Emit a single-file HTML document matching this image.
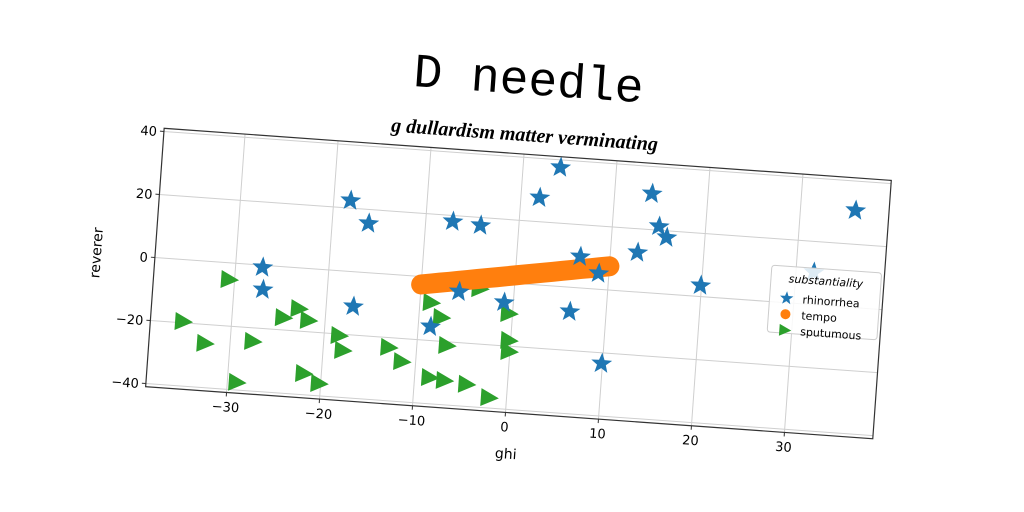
<!DOCTYPE html>
<html><head><meta charset="utf-8"><style>
html,body{margin:0;padding:0;background:#fff;width:1024px;height:512px;overflow:hidden}
svg{display:block}
text{font-family:"DejaVu Sans","Liberation Sans",sans-serif}
</style></head><body>
<svg id="chart" width="1024" height="512" viewBox="0 0 1024 512" xmlns="http://www.w3.org/2000/svg">
<g id="rot" transform="rotate(4.1 518 283)">
<text x="514" y="94" text-anchor="middle" font-size="48" style="font-family:'Liberation Mono','DejaVu Sans Mono',monospace">D needle</text>
<text x="514" y="141" text-anchor="middle" font-size="20" font-style="italic" font-weight="bold" style="font-family:'Liberation Serif',serif">g dullardism matter verminating</text>
<g id="grid"></g>
<g id="marks"></g>
<rect x="154" y="154" width="729" height="259" fill="none" stroke="#333" stroke-width="1.2"/>
<g id="ticks"></g>
<text x="518" y="459" text-anchor="middle" font-size="14">ghi</text>
<text transform="translate(100 283) rotate(-90)" text-anchor="middle" font-size="14">reverer</text>
<g id="legend">
<rect x="770" y="247" width="110" height="67" rx="3" fill="#fff" fill-opacity="0.85" stroke="#ccc"/>
<text x="825" y="263" text-anchor="middle" font-size="11" font-style="italic">substantiality</text>
<g><path id="lgstar" d="" fill="#1f77b4"/><text x="803" y="283" font-size="11">rhinorrhea</text></g>
<g><circle cx="787" cy="295" r="5" fill="#ff7f0e"/><text x="803" y="299" font-size="11">tempo</text></g>
<g><path d="M782,305 L794,311 L782,317 Z" fill="#2ca02c"/><text x="803" y="315" font-size="11">sputumous</text></g>
</g>
</g>
</svg>
<script>
const xTicks=[-30,-20,-10,0,10,20,30];
const yTicks=[-40,-20,0,20,40];
const starX=[-18.2,-16.1,-7.1,-4.1,4.0,2.0,14.0,15.0,15.9,6.8,12.9,8.9,-27.1,-26.9,-17.1,-5.9,-8.7,-1.0,6.1,9.9,19.9,31.9,35.9];
const starY=[22.4,15.6,18.1,17.5,37.6,27.6,31.4,21.2,17.9,9.9,12.5,5.0,-0.7,-7.7,-11,-3.9,-15.6,-6.3,-7.7,-23.4,3.5,10.2,30.7];
const tempoX=[-10,-9,-8,-7,-6,-5,-4,-3,-2,-1,0,1,2,3,4,5,6,7,8,9,10];
const tempoY=[-2.5,-2,-1.5,-1,-0.5,0,0.5,1,1.5,2,2.5,3,3.5,4,4.5,5,5.5,6,6.5,7,7.5];
const triX=[-30.7,-35.3,-32.8,-27.7,-29.1,-24.6,-23.0,-21.9,-18.5,-18.0,-22.0,-20.3,-13.1,-11.6,-8.9,-7.7,-6.9,-5.9,-3.8,-8.5,-6.9,-4.5,-2.0,-0.5,-0.3,-0.2];
const triY=[-5.3,-19.6,-26,-24.3,-37.6,-16.1,-12.9,-16.4,-20.5,-25.1,-33.3,-36.1,-23.1,-27.3,-8.0,-12.5,-21.2,-1.3,-2.5,-31.7,-32.3,-33,-36.7,-9.7,-18.2,-21.7];
const X0=154,X1=883,Y0=154,Y1=413,XMIN=-38.7,XMAX=39.5,YMIN=-41,YMAX=41;
const sx=v=>X0+(v-XMIN)/(XMAX-XMIN)*(X1-X0);
const sy=v=>Y1-(v-YMIN)/(YMAX-YMIN)*(Y1-Y0);
const NS='http://www.w3.org/2000/svg';
function mk(tag,attrs,parent){const e=document.createElementNS(NS,tag);for(const k in attrs)e.setAttribute(k,attrs[k]);parent.appendChild(e);return e;}
function starPath(cx,cy,R){const r=R*0.42;let d='';for(let i=0;i<10;i++){const a=-Math.PI/2+i*Math.PI/5;const rr=i%2?r:R;d+=(i?'L':'M')+(cx+rr*Math.cos(a)).toFixed(1)+','+(cy+rr*Math.sin(a)).toFixed(1);}return d+'Z';}
const grid=document.getElementById('grid'),ticks=document.getElementById('ticks'),marks=document.getElementById('marks');
xTicks.forEach(t=>{const x=sx(t);
const g=mk('line',{x1:x,x2:x,y1:Y0,y2:Y1,stroke:'#cfcfcf','stroke-width':1},grid);


const tk=mk('line',{x1:x,x2:x,y1:Y1,y2:Y1+4,stroke:'#333'},ticks);


const l=mk('text',{x:x,y:Y1+19,'text-anchor':'middle','font-size':13},ticks);l.textContent=t<0?'\u2212'+(-t):t;

});
yTicks.forEach(t=>{const y=sy(t);
const g=mk('line',{x1:X0,x2:X1,y1:y,y2:y,stroke:'#cfcfcf','stroke-width':1},grid);


const tk=mk('line',{x1:X0-4,x2:X0,y1:y,y2:y,stroke:'#333'},ticks);


const l=mk('text',{x:X0-7,y:y+5,'text-anchor':'end','font-size':13},ticks);l.textContent=t<0?'\u2212'+(-t):t;

});
triX.forEach((v,i)=>{const x=sx(v),y=sy(triY[i]);
const p=mk('path',{d:`M${x-7},${y-9} L${x+11},${y} L${x-7},${y+9} Z`,fill:'#2ca02c'},marks);

});
let d='';tempoX.forEach((v,i)=>{d+=(i?'L':'M')+sx(v).toFixed(1)+','+sy(tempoY[i]).toFixed(1);});
const ln=mk('path',{d:d,stroke:'#ff7f0e','stroke-width':20,'stroke-linecap':'round','stroke-linejoin':'round',fill:'none'},marks);


starX.forEach((v,i)=>{
const p=mk('path',{d:starPath(sx(v),sy(starY[i]),11),fill:'#1f77b4'},marks);

});
document.getElementById('lgstar').setAttribute('d',starPath(787,279,7));
</script>
</body></html>
